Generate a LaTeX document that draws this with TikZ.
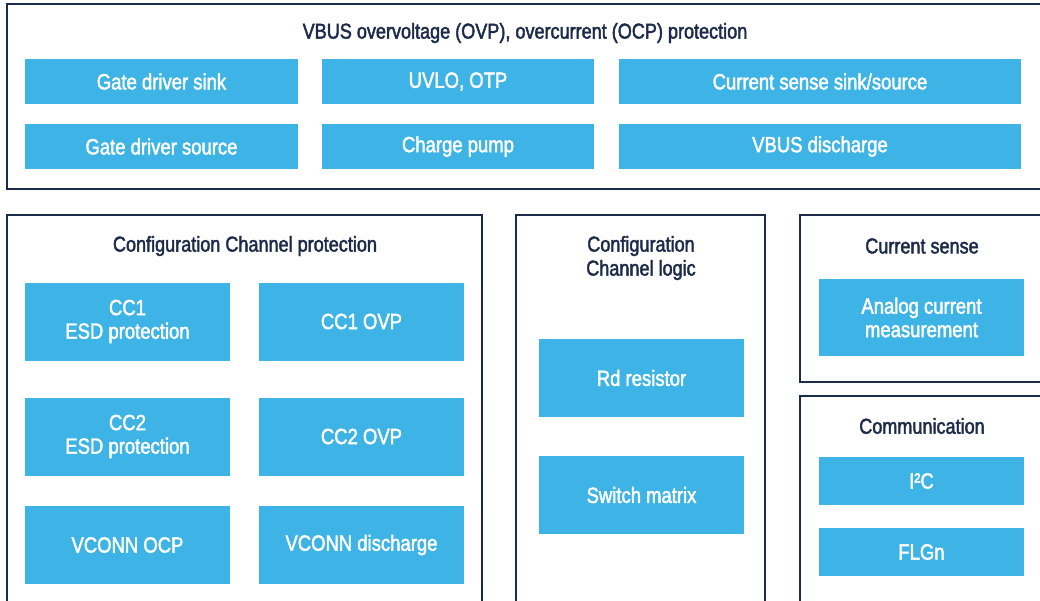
\documentclass[tikz,border=0pt]{standalone}
\usepackage{fontspec}
\setmainfont[FakeStretch=0.84,FakeBold=2]{Liberation Sans}
\definecolor{boxblue}{HTML}{3DB4E5}
\definecolor{navy}{HTML}{1C2B4A}
\begin{document}
\begin{tikzpicture}[x=1pt,y=-1pt,
  every node/.style={inner sep=0pt,outer sep=0pt},
  blk/.style={fill=boxblue,text=white,minimum width=205pt,minimum height=78pt,align=center,
    font=\fontsize{22}{23.5}\selectfont},
  frm/.style={draw=navy,line width=2pt,fill=none},
  ttl/.style={text=navy,align=center,font=\fontsize{21.5}{24}\selectfont}]
\useasboundingbox (0,0) rectangle (1040,600);
\clip (0,0) rectangle (1040,600);
\fill[white] (0,0) rectangle (1040,600);
% frames
\node[frm,minimum width=1038pt,minimum height=185pt] (ftop) at (526,96.5) {};
\node[frm,minimum width=475pt,minimum height=400pt] (fcc) at (244.5,415) {};
\node[frm,minimum width=249pt,minimum height=400pt] (flog) at (640.5,415) {};
\node[frm,minimum width=245pt,minimum height=167pt] (fcs) at (922.5,298.5) {};
\node[frm,minimum width=245pt,minimum height=214pt] (fcom) at (922.5,503) {};
% titles
\node[ttl] (ttop) at (525,33) {VBUS overvoltage (OVP), overcurrent (OCP) protection};
\node[ttl] (tcc) at (245,246) {Configuration Channel protection};
\node[ttl] (tlog) at (641,258) {Configuration\\Channel logic};
\node[ttl] (tcs) at (922,246) {Current sense};
\node[ttl] (tcom) at (922,426) {Communication};
% top boxes
\node[blk,minimum width=273pt,minimum height=45pt] (gds) at (161.5,81.5) {Gate driver sink};
\node[blk,minimum width=272pt,minimum height=45pt] (uvlo) at (458,81.5) {UVLO, OTP};
\node[blk,minimum width=402pt,minimum height=45pt] (css) at (820,81.5) {Current sense sink/source};
\node[blk,minimum width=273pt,minimum height=45pt] (gdsrc) at (161.5,146.5) {Gate driver source};
\node[blk,minimum width=272pt,minimum height=45pt] (cp) at (458,146.5) {Charge pump};
\node[blk,minimum width=402pt,minimum height=45pt] (vd) at (820,146.5) {VBUS discharge};
% CC protection
\node[blk] (esd1) at (127.5,321.5) {CC1\\ESD protection};
\node[blk] (ovp1) at (361.5,321.5) {CC1 OVP};
\node[blk] (esd2) at (127.5,436.5) {CC2\\ESD protection};
\node[blk] (ovp2) at (361.5,436.5) {CC2 OVP};
\node[blk] (vocp) at (127.5,545) {VCONN OCP};
\node[blk] (vdis) at (361.5,545) {VCONN discharge};
% CC logic
\node[blk] (rd) at (641.5,378) {Rd resistor};
\node[blk] (sw) at (641.5,495) {Switch matrix};
% current sense
\node[blk,minimum height=77pt] (acm) at (921.5,317.5) {Analog current\\measurement};
% communication
\node[blk,minimum height=48pt] (i2c) at (921.5,481) {I²C};
\node[blk,minimum height=48pt] (flg) at (921.5,552) {FLGn};
\end{tikzpicture}
\end{document}
